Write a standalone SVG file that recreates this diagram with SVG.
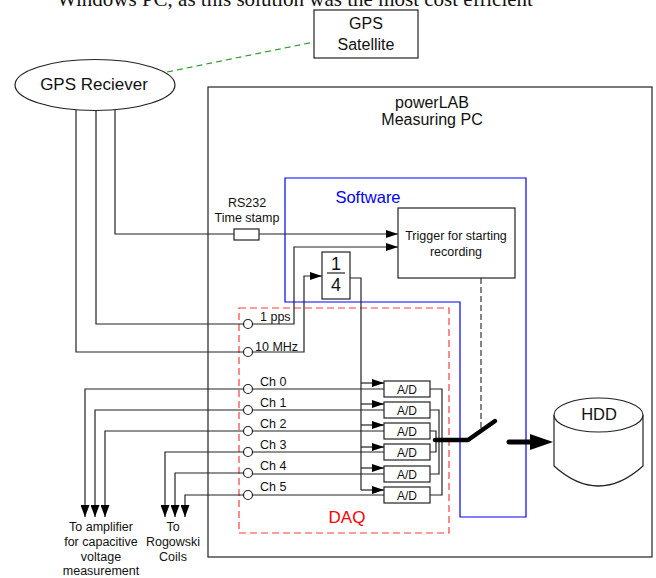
<svg xmlns="http://www.w3.org/2000/svg" width="656" height="578" viewBox="0 0 656 578">
<defs>
<style>
text{font-family:"Liberation Sans",Arial,sans-serif;fill:#111}
.ln{fill:none;stroke:#222;stroke-width:1.2}
.box{fill:#fff;stroke:#222;stroke-width:1.2}
.t12{font-size:12.5px}
.mid{text-anchor:middle}
</style>
<marker id="arr" viewBox="0 0 12 8" refX="12" refY="4" markerWidth="12" markerHeight="8" markerUnits="userSpaceOnUse" orient="auto"><path d="M0,0 L12,4 L0,8 Z" fill="#000"/></marker>
<marker id="arrd" viewBox="0 0 12 9" refX="12" refY="4.5" markerWidth="12" markerHeight="9" markerUnits="userSpaceOnUse" orient="auto"><path d="M0,0 L12,4.5 L0,9 Z" fill="#000"/></marker>
</defs>
<rect width="656" height="578" fill="#fff"/>
<text x="57" y="6" style="font-family:'Liberation Serif','Times New Roman',serif;font-size:21px">Windows PC, as this solution was the most cost efficient</text>

<g id="powerlab">
<rect x="208" y="87" width="444" height="470" fill="none" stroke="#333" stroke-width="1.3"/>
<text x="432" y="108" class="mid" font-size="16">powerLAB</text>
<text x="432" y="125" class="mid" font-size="16">Measuring PC</text>
</g>

<g id="software">
<polygon points="285,178 526,178 526,517 460,517 460,302 285,302" fill="none" stroke="#0000ff" stroke-width="1.2"/>
<text x="368" y="203" class="mid" font-size="16.5" style="fill:#0000ff">Software</text>
</g>

<g id="daq">
<rect x="239" y="308" width="210" height="225" fill="none" stroke="#ff3b3b" stroke-width="1.2" stroke-dasharray="7,4"/>
<text x="347" y="523" class="mid" font-size="17" style="fill:#ff0000">DAQ</text>
</g>

<g id="connectors">
<line x1="167" y1="72" x2="314" y2="42" stroke="#2a9a2a" stroke-width="1.2" stroke-dasharray="6,4"/>
<polyline class="ln" points="115,110 115,234 398,234" marker-end="url(#arr)"/>
<polyline class="ln" points="96,110 96,324 243.5,324"/>
<polyline class="ln" points="252.5,324 294,324 294,247 398,247" marker-end="url(#arr)"/>
<polyline class="ln" points="76,110 76,352 243.5,352"/>
<polyline class="ln" points="252.5,352 304,352 304,276 322,276" marker-end="url(#arr)"/>
<polyline class="ln" points="350,278 361,278 361,490"/>
<line class="ln" x1="361" y1="383" x2="384" y2="383" marker-end="url(#arr)"/>
<line class="ln" x1="361" y1="404" x2="384" y2="404" marker-end="url(#arr)"/>
<line class="ln" x1="361" y1="425" x2="384" y2="425" marker-end="url(#arr)"/>
<line class="ln" x1="361" y1="447" x2="384" y2="447" marker-end="url(#arr)"/>
<line class="ln" x1="361" y1="468" x2="384" y2="468" marker-end="url(#arr)"/>
<line class="ln" x1="361" y1="490" x2="384" y2="490" marker-end="url(#arr)"/>
<line class="ln" x1="252.5" y1="389" x2="384" y2="389"/>
<line class="ln" x1="252.5" y1="410" x2="384" y2="410"/>
<line class="ln" x1="252.5" y1="431" x2="384" y2="431"/>
<line class="ln" x1="252.5" y1="452" x2="384" y2="452"/>
<line class="ln" x1="252.5" y1="474" x2="384" y2="474"/>
<line class="ln" x1="252.5" y1="495" x2="384" y2="495"/>
<polyline class="ln" points="243.5,389 85,389 85,517" marker-end="url(#arrd)"/>
<polyline class="ln" points="243.5,410 95,410 95,517" marker-end="url(#arrd)"/>
<polyline class="ln" points="243.5,431 105,431 105,517" marker-end="url(#arrd)"/>
<polyline class="ln" points="243.5,452 165,452 165,517" marker-end="url(#arrd)"/>
<polyline class="ln" points="243.5,473 175,473 175,517" marker-end="url(#arrd)"/>
<polyline class="ln" points="243.5,495 185,495 185,517" marker-end="url(#arrd)"/>
<polyline class="ln" points="430,389 442,389 442,495 430,495"/>
<polyline class="ln" points="430,410 439,410 439,474 430,474"/>
<polyline class="ln" points="430,431 436,431 436,452 430,452"/>
<line x1="481" y1="278" x2="481" y2="428" stroke="#333" stroke-width="1.2" stroke-dasharray="6,3"/>
<polyline points="435,440 468,440 495,421" fill="none" stroke="#000" stroke-width="4.5" stroke-linecap="round" stroke-linejoin="round"/>
<line x1="509" y1="442" x2="532" y2="442" stroke="#000" stroke-width="5" stroke-linecap="round"/>
<polygon points="530,434 553,442 530,450" fill="#000"/>
</g>

<g id="gps-satellite">
<rect x="314" y="10" width="104" height="48" class="box"/>
<text x="366" y="29" class="mid" font-size="16">GPS</text>
<text x="366" y="50" class="mid" font-size="16">Satellite</text>
</g>

<g id="gps-receiver">
<ellipse cx="95" cy="85" rx="80" ry="25.5" class="box"/>
<text x="94" y="90" class="mid" font-size="17">GPS Reciever</text>
</g>

<g id="rs232">
<rect x="234" y="229" width="25" height="11" class="box"/>
<text x="247" y="207" class="mid t12">RS232</text>
<text x="247" y="222" class="mid t12">Time stamp</text>
</g>

<g id="trigger">
<rect x="398" y="208" width="117" height="70" class="box"/>
<text x="456" y="240" class="mid t12">Trigger for starting</text>
<text x="456" y="256" class="mid t12">recording</text>
</g>

<g id="divider">
<rect x="322" y="252" width="28" height="47" class="box"/>
<text x="336" y="270" class="mid" font-size="18">1</text>
<line x1="327" y1="273" x2="345" y2="273" stroke="#222" stroke-width="1.2"/>
<text x="336" y="291" class="mid" font-size="18">4</text>
</g>

<g id="inputs">
<circle cx="248" cy="324" r="4.5" class="box"/>
<text x="260" y="321" class="t12">1 pps</text>
<circle cx="248" cy="352" r="4.5" class="box"/>
<text x="255" y="351" class="t12">10 MHz</text>
<circle cx="248" cy="389" r="4.5" class="box"/>
<text x="260" y="386" class="t12">Ch 0</text>
<circle cx="248" cy="410" r="4.5" class="box"/>
<text x="260" y="407" class="t12">Ch 1</text>
<circle cx="248" cy="431" r="4.5" class="box"/>
<text x="260" y="428" class="t12">Ch 2</text>
<circle cx="248" cy="452" r="4.5" class="box"/>
<text x="260" y="449" class="t12">Ch 3</text>
<circle cx="248" cy="473" r="4.5" class="box"/>
<text x="260" y="470" class="t12">Ch 4</text>
<circle cx="248" cy="495" r="4.5" class="box"/>
<text x="260" y="491" class="t12">Ch 5</text>
</g>

<g id="ad-converters">
<rect x="384" y="381" width="46" height="16" class="box"/><text x="407" y="393.5" class="mid" font-size="12">A/D</text>
<rect x="384" y="402" width="46" height="16" class="box"/><text x="407" y="414.5" class="mid" font-size="12">A/D</text>
<rect x="384" y="423" width="46" height="16" class="box"/><text x="407" y="435.5" class="mid" font-size="12">A/D</text>
<rect x="384" y="444" width="46" height="16" class="box"/><text x="407" y="456.5" class="mid" font-size="12">A/D</text>
<rect x="384" y="466" width="46" height="16" class="box"/><text x="407" y="478.5" class="mid" font-size="12">A/D</text>
<rect x="384" y="487" width="46" height="16" class="box"/><text x="407" y="499.5" class="mid" font-size="12">A/D</text>
</g>

<g id="hdd">
<path d="M554,415 L554,466 Q598.5,506 643,466 L643,415" class="box"/>
<ellipse cx="598.5" cy="415" rx="44.5" ry="17" class="box"/>
<text x="599" y="420" class="mid" font-size="16.5">HDD</text>
</g>

<g id="amp-label">
<text x="101" y="531" class="mid t12">To amplifier</text>
<text x="101" y="546" class="mid t12">for capacitive</text>
<text x="101" y="561" class="mid t12">voltage</text>
<text x="101" y="575" class="mid t12">measurement</text>
</g>
<g id="rogowski-label">
<text x="173" y="531" class="mid t12">To</text>
<text x="173" y="546" class="mid t12">Rogowski</text>
<text x="173" y="561" class="mid t12">Coils</text>
</g>
</svg>
